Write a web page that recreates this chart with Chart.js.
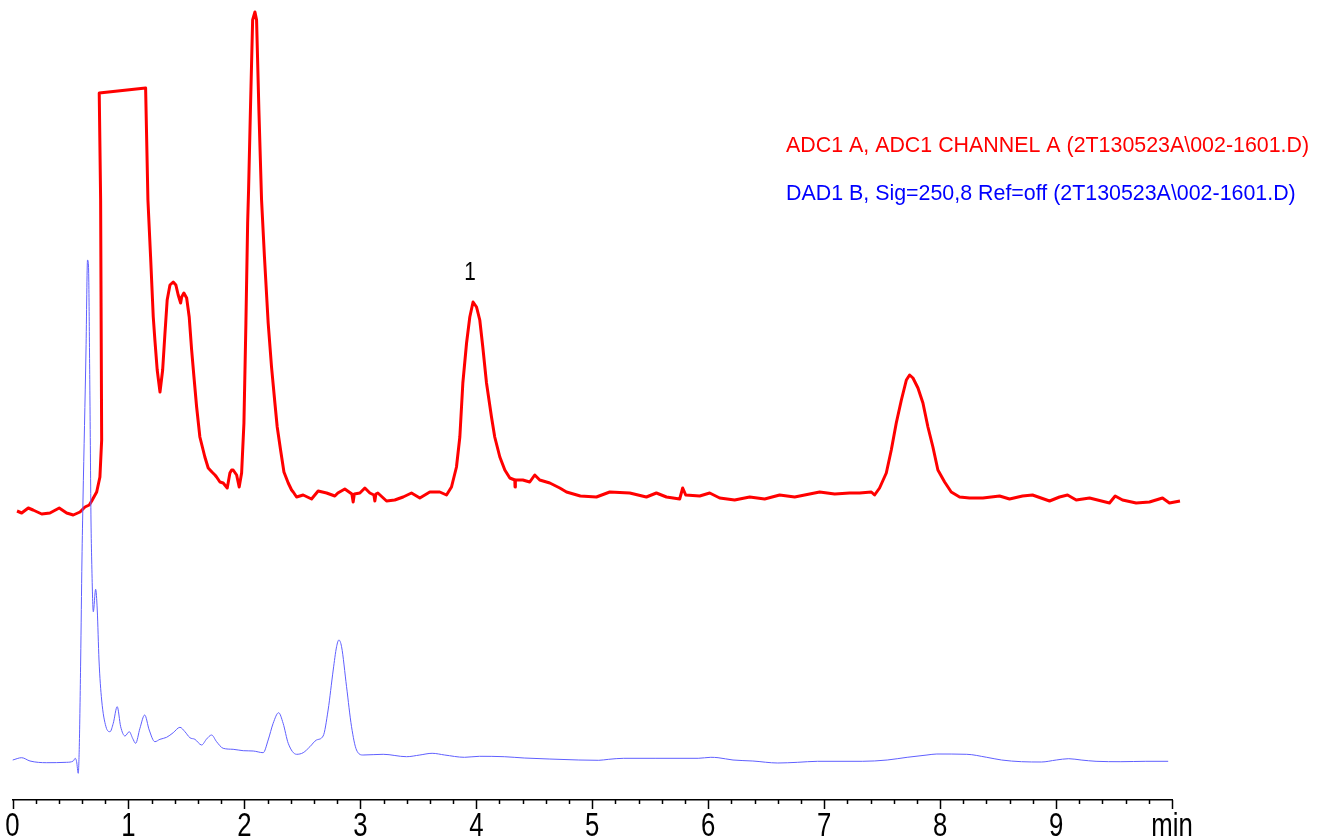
<!DOCTYPE html>
<html>
<head>
  <meta charset="UTF-8">
  <title>ADC1 A / DAD1 B</title>
  <style>
    body { margin: 0; background: #ffffff; }
  </style>
</head>
<body>
  <canvas id="chromatogram" width="1325" height="839"></canvas>

  <script src="https://cdn.jsdelivr.net/npm/chart.js"></script>
  <script>

    // ADC1 A trace: retention time (min) and response
    const adcTime = [
      0.039, 0.079, 0.136, 0.177, 0.252, 0.323, 0.403, 0.467, 0.524, 0.582,
      0.625, 0.662, 0.683, 0.726, 0.754, 0.769, 0.760, 0.748, 1.148, 1.168,
      1.191, 1.214, 1.228, 1.248, 1.272, 1.295, 1.315, 1.334, 1.358, 1.386,
      1.409, 1.429, 1.450, 1.459, 1.478, 1.502, 1.524, 1.545, 1.565, 1.588,
      1.616, 1.659, 1.688, 1.720, 1.746, 1.760, 1.789, 1.817, 1.852, 1.875,
      1.890, 1.903, 1.933, 1.955, 1.976, 1.996, 2.013, 2.028, 2.036, 2.052,
      2.071, 2.091, 2.105, 2.125, 2.148, 2.173, 2.205, 2.234, 2.263, 2.283,
      2.312, 2.341, 2.378, 2.407, 2.421, 2.450, 2.507, 2.579, 2.636, 2.709,
      2.780, 2.806, 2.866, 2.927, 2.938, 2.948, 2.996, 3.039, 3.082, 3.117,
      3.125, 3.134, 3.151, 3.226, 3.297, 3.369, 3.441, 3.513, 3.599, 3.685,
      3.743, 3.786, 3.829, 3.858, 3.884, 3.916, 3.944, 3.972, 4.002, 4.030,
      4.056, 4.088, 4.131, 4.159, 4.203, 4.246, 4.289, 4.332, 4.334, 4.337,
      4.401, 4.461, 4.504, 4.547, 4.634, 4.720, 4.778, 4.897, 5.036, 5.151,
      5.323, 5.467, 5.553, 5.640, 5.754, 5.780, 5.806, 5.927, 6.013, 6.099,
      6.228, 6.358, 6.487, 6.616, 6.746, 6.875, 6.961, 7.091, 7.220, 7.306,
      7.407, 7.435, 7.478, 7.536, 7.579, 7.622, 7.666, 7.709, 7.737, 7.766,
      7.809, 7.852, 7.895, 7.938, 7.981, 8.039, 8.096, 8.168, 8.254, 8.369,
      8.513, 8.599, 8.711, 8.797, 8.944, 9.030, 9.099, 9.174, 9.289, 9.461,
      9.510, 9.573, 9.691, 9.806, 9.918, 9.978, 10.069
    ]
    const adcSignal = [
      289, 287, 292, 290, 286, 287, 292, 287, 285, 288,
      293, 295, 299, 308, 323, 360, 600, 707, 712, 600,
      543, 483, 460, 430, 408, 430, 467, 500, 515, 518,
      515, 505, 497, 503, 507, 502, 483, 450, 423, 393,
      363, 343, 332, 328, 325, 323, 318, 317, 312, 327,
      330, 330, 325, 313, 327, 377, 477, 577, 610, 690,
      780, 788, 780, 690, 600, 543, 477, 433, 397, 373,
      350, 328, 317, 310, 308, 303, 305, 301, 309, 307,
      304, 307, 311, 306, 298, 306, 307, 312, 307, 305,
      299, 306, 307, 299, 300, 303, 307, 302, 308, 308,
      305, 313, 333, 363, 417, 457, 483, 498, 493, 480,
      453, 417, 383, 363, 343, 330, 322, 320, 313, 320,
      320, 318, 325, 320, 317, 312, 308, 304, 303, 308,
      307, 303, 307, 303, 301, 312, 305, 304, 307, 302,
      300, 303, 301, 305, 303, 306, 308, 306, 307, 307,
      308, 305, 312, 327, 350, 377, 400, 420, 425, 422,
      412, 397, 373, 353, 330, 318, 308, 303, 302, 302,
      304, 301, 304, 305, 299, 303, 305, 300, 302, 297,
      304, 300, 297, 298, 302, 297, 299
    ]

    // DAD1 B trace
    const dadTime = [
      0.002, 0.079, 0.151, 0.295, 0.467, 0.524, 0.541, 0.553, 0.567, 0.576,
      0.588, 0.599, 0.608, 0.634, 0.647, 0.655, 0.668, 0.677, 0.683, 0.697,
      0.717, 0.731, 0.746, 0.769, 0.806, 0.841, 0.869, 0.903, 0.933, 0.970,
      1.007, 1.036, 1.062, 1.099, 1.140, 1.179, 1.228, 1.272, 1.329, 1.386,
      1.444, 1.487, 1.530, 1.573, 1.631, 1.674, 1.717, 1.760, 1.817, 1.903,
      1.990, 2.076, 2.162, 2.205, 2.248, 2.295, 2.334, 2.378, 2.450, 2.507,
      2.565, 2.622, 2.679, 2.722, 2.766, 2.795, 2.815, 2.838, 2.881, 2.924,
      2.967, 3.024, 3.197, 3.398, 3.513, 3.619, 3.727, 3.898, 4.027, 4.241,
      4.413, 4.628, 4.884, 5.056, 5.142, 5.271, 5.549, 5.914, 6.022, 6.085,
      6.214, 6.385, 6.600, 6.772, 6.943, 7.329, 7.544, 7.716, 7.887, 7.972,
      8.230, 8.402, 8.530, 8.702, 8.873, 9.002, 9.109, 9.216, 9.345, 9.559,
      9.774, 9.967
    ]
    const dadSignal = [
      40, 42.3, 39, 37.3, 37.7, 39, 41.7, 38.3, 26.7, 53.3,
      140, 240, 300, 450, 540, 535, 400, 280, 240, 188.3,
      210.7, 190, 140, 100, 73.3, 68.3, 76.7, 93.3, 73.3, 64,
      68.3, 61.7, 56.7, 71.7, 85, 70, 58.3, 60.7, 62.7, 67.3,
      72.7, 68.3, 62.3, 60.7, 55, 61, 65, 58.3, 51.7, 50.7,
      49.3, 49, 47.3, 60, 76.7, 87.3, 76.7, 56.7, 45.7, 47.3,
      53.3, 60, 64, 90, 130, 153.3, 160, 153.3, 113.3, 73.3,
      50, 45, 45.7, 43.3, 45, 46.7, 45, 42.7, 43.7, 43.3,
      42, 41, 40, 39.7, 40.7, 41.7, 41.7, 41.7, 42.7, 42.3,
      40, 39, 37, 37.7, 38.7, 38.7, 40, 42.7, 45, 46,
      45.7, 42.7, 40, 38.3, 38, 40, 41.3, 40, 38.7, 38.3,
      38.7, 38.7
    ]

    const adcLabel = 'ADC1 A, ADC1 CHANNEL A (2T130523A\\002-1601.D)'
    const dadLabel = 'DAD1 B, Sig=250,8 Ref=off (2T130523A\\002-1601.D)'
    const peakTimes = [3.972]
    const peakNames = ['1']
    const timeUnit = 'min'

    const toPoints = (xs, ys) => xs.map((x, i) => ({x: x, y: ys[i]}))

    // the report uses a narrow sans, so labels are squeezed horizontally
    function narrowText(ctx, text, x, y, squeeze){
      ctx.save()
      ctx.translate(x, y)
      ctx.scale(squeeze, 1)
      ctx.fillText(text, 0, 0)
      ctx.restore()
    }

    // tick marks every 0.2 min (longer on whole minutes) and the labels
    const timeAxis = {
      id: 'timeAxis',
      afterDraw(chart){
        const ctx = chart.ctx
        const xs = chart.scales.x
        const bottom = chart.chartArea.bottom
        ctx.save()
        ctx.strokeStyle = '#000'
        ctx.lineWidth = 1.5
        for(let i = 0; i <= 50; i++){
          const px = Math.round(xs.getPixelForValue(i * 0.2)) + 0.5
          const len = (i % 5 === 0) ? 9 : 4
          ctx.beginPath()
          ctx.moveTo(px, bottom)
          ctx.lineTo(px, bottom + len)
          ctx.stroke()
        }
        ctx.fillStyle = '#000'
        ctx.font = '33px "Liberation Sans", Arial, sans-serif'
        ctx.textAlign = 'center'
        ctx.textBaseline = 'alphabetic'
        xs.ticks.forEach(t => {
          narrowText(ctx, t.label, xs.getPixelForValue(t.value), bottom + 36, 0.78)
        })
        ctx.restore()
      }
    }

    // signal names in the top right and the peak number
    const signalText = {
      id: 'signalText',
      afterDraw(chart){
        const ctx = chart.ctx
        ctx.save()
        ctx.font = '21.4px "Liberation Sans", Arial, sans-serif'
        ctx.textBaseline = 'middle'
        ctx.textAlign = 'left'
        chart.data.datasets.slice().reverse().forEach((ds, i) => {
          ctx.fillStyle = ds.textColor
          ctx.fillText(ds.label, 786, 146 + i * 48)
        })

        const xs = chart.scales.x
        const ys = chart.scales.y
        ctx.fillStyle = '#000'
        ctx.textAlign = 'center'
        ctx.textBaseline = 'alphabetic'
        ctx.font = '26px "Liberation Sans", Arial, sans-serif'
        peakTimes.forEach((t, i) => {
          let k = 0
          adcTime.forEach((v, j) => { if(Math.abs(v - t) < Math.abs(adcTime[k] - t)) k = j })
          narrowText(ctx, peakNames[i], xs.getPixelForValue(t) - 3, ys.getPixelForValue(adcSignal[k]) - 22, 0.8)
        })
        ctx.restore()
      }
    }

    new Chart(document.getElementById('chromatogram'), {
      type: 'line',
      data: {
        datasets: [
          {
            label: dadLabel,
            data: toPoints(dadTime, dadSignal),
            borderColor: 'rgb(95, 95, 255)',
            textColor: '#0000ff',
            borderWidth: 1,
            pointRadius: 0,
            cubicInterpolationMode: 'monotone',
            clip: false
          },
          {
            label: adcLabel,
            data: toPoints(adcTime, adcSignal),
            borderColor: '#ff0000',
            textColor: '#ff0000',
            borderWidth: 3,
            pointRadius: 0,
            tension: 0,
            borderJoinStyle: 'round',
            clip: false
          }
        ]
      },
      options: {
        responsive: false,
        animation: false,
        devicePixelRatio: 1,
        layout: {
          padding: {left: 12.5, right: 153, top: 0, bottom: 39}
        },
        plugins: {
          legend: {display: false},
          tooltip: {enabled: false}
        },
        scales: {
          x: {
            type: 'linear',
            min: 0,
            max: 10,
            grid: {display: false, drawTicks: false},
            border: {display: true, color: '#000', width: 1.5},
            ticks: {
              display: false,
              stepSize: 1,
              callback: (v) => v === 10 ? timeUnit : String(v)
            }
          },
          y: {
            display: false,
            min: 0,
            max: 800
          }
        }
      },
      plugins: [timeAxis, signalText]
    });

  </script>
</body>
</html>
